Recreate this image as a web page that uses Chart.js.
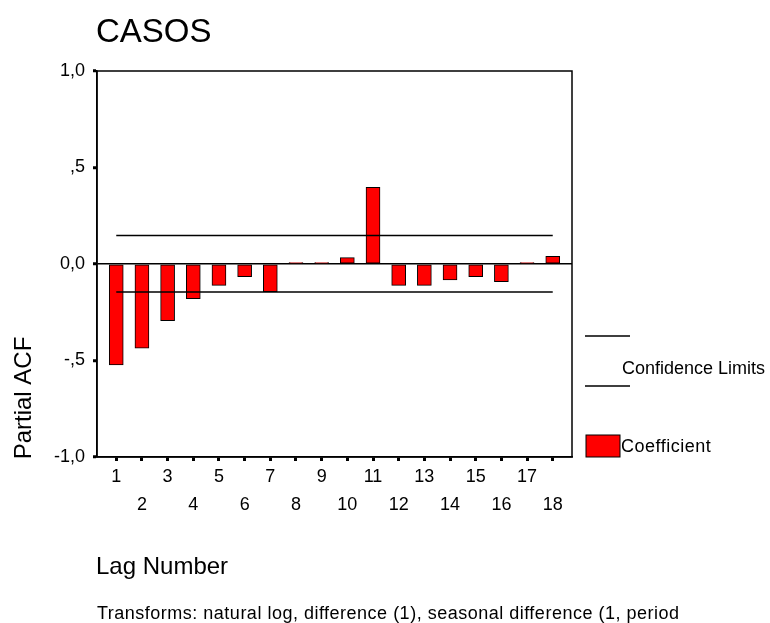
<!DOCTYPE html>
<html>
<head>
<meta charset="utf-8">
<script src="https://cdn.jsdelivr.net/npm/chart.js@4/dist/chart.umd.min.js"></script>
<style>
  html, body { margin: 0; padding: 0; background: #fff; }
  #wrap { width: 770px; height: 623px; position: relative; }
</style>
</head>
<body>
<div id="wrap"><canvas id="myChart" width="770" height="623"></canvas></div>
<script>
// lags and partial autocorrelation coefficients
const lags = [1, 2, 3, 4, 5, 6, 7, 8, 9, 10, 11, 12, 13, 14, 15, 16, 17, 18];
const pacf = [-0.523, -0.436, -0.294, -0.180, -0.111, -0.066, -0.144, 0.008, 0.008,
              0.033, 0.397, -0.111, -0.111, -0.083, -0.066, -0.092, 0.008, 0.040];
const confUpper = 0.148;
const confLower = -0.145;
const yTickValues = [-1, -0.5, 0, 0.5, 1];
const yTickLabels = ['-1,0', '-,5', '0,0', ',5', '1,0'];

const FONT = '"Liberation Sans", Arial, sans-serif';

// title, axis titles, frame and legend in the SPSS layout
const decor = {
    id: 'decor',
    afterDraw(chart) {
        const ctx = chart.ctx;
        const a = chart.chartArea;
        ctx.save();
        ctx.strokeStyle = '#000';
        ctx.lineWidth = 1.5;
        ctx.strokeRect(a.left, a.top, a.right - a.left, a.bottom - a.top);

        ctx.fillStyle = '#000';
        ctx.textBaseline = 'alphabetic';
        ctx.textAlign = 'left';
        ctx.font = '33px ' + FONT;
        ctx.fillText('CASOS', 96, 42);

        ctx.font = '24px ' + FONT;
        ctx.fillText('Lag Number', 96, 574);

        ctx.font = '18px ' + FONT;
        ctx.letterSpacing = '0.5px';
        ctx.fillText('Transforms: natural log, difference (1), seasonal difference (1, period', 97, 619);
        ctx.letterSpacing = '0px';

        ctx.save();
        ctx.translate(31, 398);
        ctx.rotate(-Math.PI / 2);
        ctx.textAlign = 'center';
        ctx.font = '24px ' + FONT;
        ctx.fillText('Partial ACF', 0, 0);
        ctx.restore();

        // legend
        ctx.lineWidth = 1.5;
        ctx.beginPath();
        ctx.moveTo(585, 336); ctx.lineTo(630, 336);
        ctx.moveTo(585, 386); ctx.lineTo(630, 386);
        ctx.stroke();
        ctx.font = '18px ' + FONT;
        ctx.textBaseline = 'middle';
        ctx.fillText('Confidence Limits', 622, 369);
        ctx.fillStyle = '#ff0000';
        ctx.fillRect(586, 435, 34, 22);
        ctx.lineWidth = 1;
        ctx.strokeRect(586, 435, 34, 22);
        ctx.fillStyle = '#000';
        ctx.letterSpacing = '0.5px';
        ctx.fillText('Coefficient', 621, 447);
        ctx.restore();
    }
};

const config = {
    data: {
        datasets: [
            {
                type: 'bar',
                label: 'Coefficient',
                data: lags.map((l, i) => ({ x: l, y: pacf[i] })),
                backgroundColor: '#ff0000',
                borderColor: '#000',
                borderWidth: 1,
                borderSkipped: false,
                barThickness: 14,
                order: 2
            },
            {
                type: 'line',
                label: 'Upper',
                data: [{ x: lags[0], y: confUpper }, { x: lags[lags.length - 1], y: confUpper }],
                borderColor: '#000',
                borderWidth: 1.5,
                pointRadius: 0,
                order: 1
            },
            {
                type: 'line',
                label: 'Lower',
                data: [{ x: lags[0], y: confLower }, { x: lags[lags.length - 1], y: confLower }],
                borderColor: '#000',
                borderWidth: 1.5,
                pointRadius: 0,
                order: 1
            }
        ]
    },
    options: {
        responsive: false,
        animation: false,
        layout: { padding: { top: 71, right: 198, left: 0, bottom: 0 } },
        plugins: {
            legend: { display: false },
            tooltip: { enabled: false },
            title: { display: false }
        },
        scales: {
            x: {
                type: 'linear',
                offset: false,
                min: 0.25,
                max: 18.75,
                afterBuildTicks(scale) {
                    scale.ticks = lags.map(v => ({ value: v }));
                },
                afterFit(scale) { scale.height = 166; },
                border: { display: true, color: '#000', width: 1.5 },
                grid: {
                    offset: false,
                    drawOnChartArea: false,
                    drawTicks: true,
                    tickLength: 4,
                    tickWidth: 3,
                    tickColor: '#000'
                },
                ticks: {
                    autoSkip: false,
                    maxRotation: 0,
                    padding: 9,
                    color: '#000',
                    font: { family: FONT, size: 18, lineHeight: '14px' },
                    callback: (v) => (v % 2 === 1 ? String(v) : ['', '', String(v)])
                }
            },
            y: {
                min: -1,
                max: 1,
                afterBuildTicks(scale) {
                    scale.ticks = yTickValues.map(v => ({ value: v }));
                },
                afterFit(scale) { scale.width = 97; },
                border: { display: true, color: '#000', width: 1.5 },
                grid: {
                    drawOnChartArea: true,
                    color: (c) => (c.tick && c.tick.value === 0 ? '#000' : 'rgba(0,0,0,0)'),
                    lineWidth: 1.5,
                    tickLength: 4,
                    tickWidth: 3,
                    tickColor: '#000'
                },
                ticks: {
                    padding: 8,
                    color: '#000',
                    font: { family: FONT, size: 18 },
                    callback: (v) => yTickLabels[yTickValues.indexOf(v)]
                }
            }
        }
    },
    plugins: [decor]
};

var myChart = new Chart(document.getElementById('myChart'), config);
</script>
</body>
</html>
